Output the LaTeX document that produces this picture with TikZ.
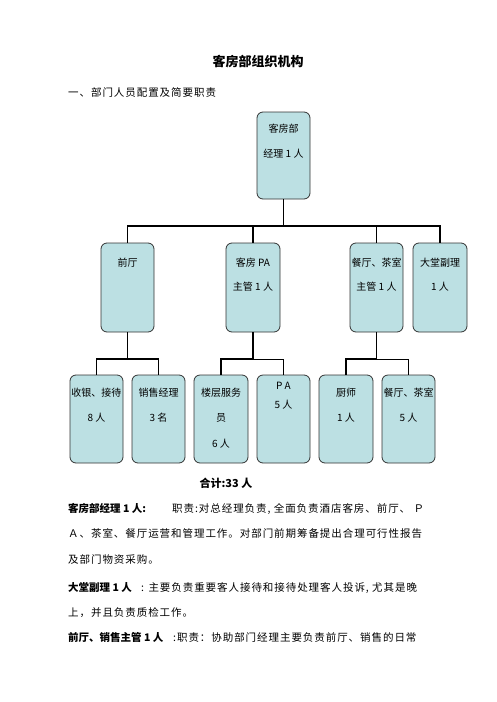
\documentclass[tikz,border=0pt]{standalone}
\usepackage{fontspec}
\setmainfont{Liberation Serif}
\newfontfamily\cjk{Noto Sans CJK SC}
\newfontfamily\cjksp[LetterSpace=9]{Noto Sans CJK SC}
\definecolor{boxfill}{HTML}{BCE0E3}
\definecolor{boxline}{HTML}{333333}
\tikzset{
  orgbox/.style={draw=boxline, fill=boxfill, line width=0.8pt, rounded corners=6pt, inner sep=0pt, font=\cjk},
  conn/.style={line width=1.6pt, black},
  thinconn/.style={line width=1pt, black},
  txt/.style={anchor=base west, inner sep=0pt},
}
\newcommand{\boxtext}[5]{\parbox[c][#2pt][t]{#1pt}{\centering\fontsize{10}{#4pt}\selectfont\rule{0pt}{#3pt}#5}}
\begin{document}
\begin{tikzpicture}[x=1pt, y=-1pt]
\useasboundingbox (0,0) rectangle (496,702);
\fill[white] (0,0) rectangle (496,702);

% title and heading
\node[anchor=base, inner sep=0pt, font=\cjk\bfseries\fontsize{13}{15}\selectfont] (title) at (258,66) {客房部组织机构};
\node[txt, font=\cjksp\fontsize{10.5}{13}\selectfont] (sub) at (68,96) {一、部门人员配置及简要职责};

% top box
\node[orgbox] (top) at (283.5,155.5) {\boxtext{53}{87}{20}{25}{客房部\\经理 1 人}};

% second row
\node[orgbox] (fd) at (127.5,287.5) {\boxtext{53}{89}{23}{24}{前厅}};
\node[orgbox] (hk) at (253,287.5) {\boxtext{54}{89}{23}{24}{客房 PA\\主管 1 人}};
\node[orgbox] (rt) at (376.5,287.5) {\boxtext{53}{89}{23}{24}{餐厅、茶室\\主管 1 人}};
\node[orgbox] (am) at (440,287.5) {\boxtext{54}{89}{23}{24}{大堂副理\\1 人}};

% third row
\node[orgbox] (c1) at (96.5,419) {\boxtext{53}{88}{21}{25.5}{收银、接待\\8 人}};
\node[orgbox] (c2) at (158.5,419) {\boxtext{53}{88}{21}{25.5}{销售经理\\3 名}};
\node[orgbox] (c3) at (221,419) {\boxtext{54}{88}{21}{25.5}{楼层服务\\员\\6 人}};
\node[orgbox] (c4) at (283.5,419) {\boxtext{53}{88}{14}{19}{P A\\5 人}};
\node[orgbox] (c5) at (346,419) {\boxtext{54}{88}{21}{25.5}{厨师\\1 人}};
\node[orgbox] (c6) at (408.5,419) {\boxtext{53}{88}{21}{25.5}{餐厅、茶室\\5 人}};

% junctions
\coordinate (j0) at (283.5,226);
\coordinate (j1) at (127.5,359);
\coordinate (j2) at (253,359);
\coordinate (j3) at (376.5,359);

% connectors
\draw[thinconn] (top.south) -- (j0);
\draw[conn] (j0) -| (fd.north);
\draw[conn] (j0) -| (hk.north);
\draw[conn] (j0) -| (rt.north);
\draw[conn] (j0) -| (am.north);

\draw[conn] (fd.south) -- (j1);
\draw[conn] (j1) -| (c1.north);
\draw[conn] (j1) -| (c2.north);
\draw[conn] (hk.south) -- (j2);
\draw[conn] (j2) -| (c3.north);
\draw[thinconn] (j2) -| (c4.north);
\draw[conn] (rt.south) -- (j3);
\draw[conn] (j3) -| (c5.north);
\draw[thinconn] (j3) -| (c6.north);

% total
\node[anchor=base, inner sep=0pt, font=\cjk\bfseries\fontsize{11}{13}\selectfont] (total) at (226,487) {合计:33 人};

% body text
\node[txt, font=\cjk\bfseries\fontsize{10.5}{13}\selectfont] (p1a) at (68,512) {客房部经理 1 人:};
\node[txt, font=\cjksp\fontsize{10.5}{13}\selectfont] (p1b) at (172,512) {职责:对总经理负责, 全面负责酒店客房、前厅、 Ｐ};
\node[txt, font=\cjksp\fontsize{10.5}{13}\selectfont] (p1c) at (68,537) {Ａ、茶室、餐厅运营和管理工作。对部门前期筹备提出合理可行性报告};
\node[txt, font=\cjksp\fontsize{10.5}{13}\selectfont] (p1d) at (68,563) {及部门物资采购。};

\node[txt, font=\cjk\bfseries\fontsize{10.5}{13}\selectfont] (p2a) at (68,591) {大堂副理 1 人};
\node[txt, font=\cjksp\fontsize{10.5}{13}\selectfont] (p2b) at (141,591) {: 主要负责重要客人接待和接待处理客人投诉, 尤其是晚};
\node[txt, font=\cjksp\fontsize{10.5}{13}\selectfont] (p2c) at (68,616) {上，并且负责质检工作。};

\node[txt, font=\cjk\bfseries\fontsize{10.5}{13}\selectfont] (p3a) at (68,641) {前厅、销售主管 1 人};
\node[txt, font=\cjksp\fontsize{10.5}{13}\selectfont] (p3b) at (173,641) {:职责：协助部门经理主要负责前厅、销售的日常};
\end{tikzpicture}
\end{document}
